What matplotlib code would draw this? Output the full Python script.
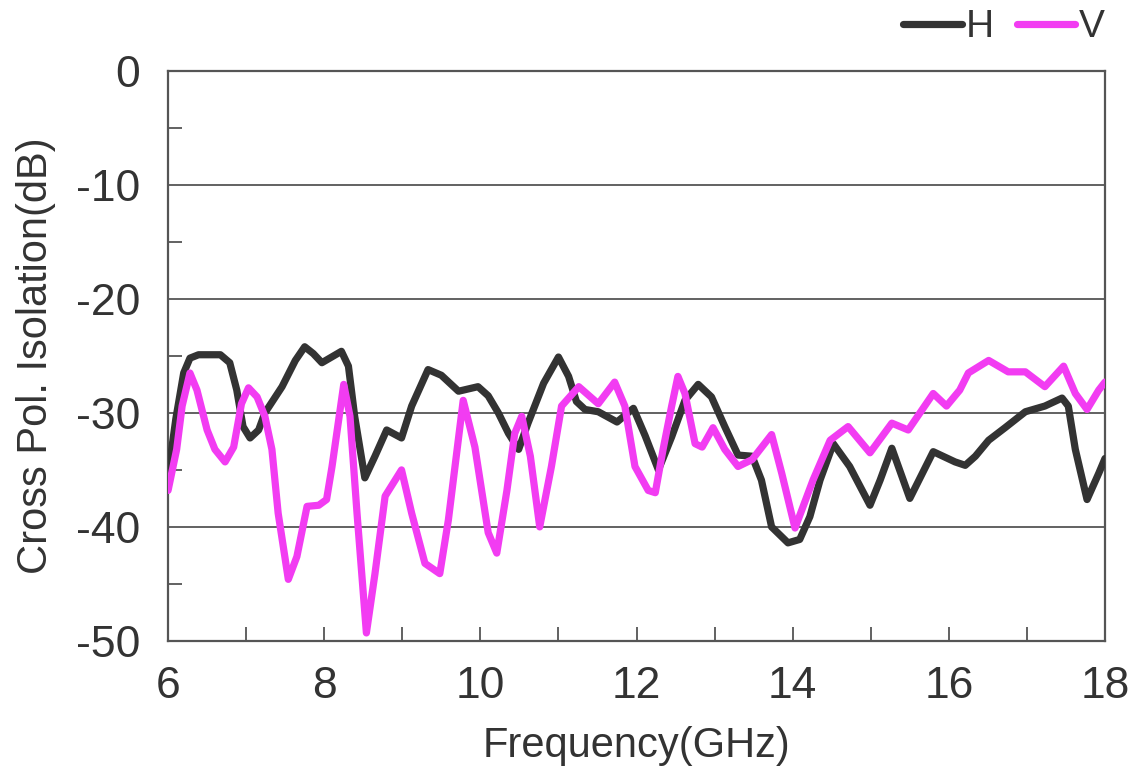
import numpy as np
import matplotlib.pyplot as plt
from matplotlib.ticker import MultipleLocator

plt.rcParams['font.family'] = ['Liberation Sans', 'DejaVu Sans']
plt.rcParams['axes.unicode_minus'] = False

# H polarisation
h_freq = [6.0, 6.1, 6.20, 6.28, 6.39, 6.67, 6.79, 6.88, 6.96, 7.05, 7.16, 7.24, 7.46, 7.63,
          7.75, 7.86, 7.97, 8.22, 8.31, 8.39, 8.52, 8.65, 8.80, 8.99, 9.12, 9.33,
          9.50, 9.72, 9.97, 10.10, 10.23, 10.36, 10.49, 10.61, 10.81, 11.0, 11.13,
          11.23, 11.34, 11.51, 11.75, 11.96, 12.11, 12.28, 12.45, 12.62, 12.79, 12.96,
          13.13, 13.30, 13.48, 13.60, 13.73, 13.94, 14.09, 14.22, 14.35, 14.52, 14.73,
          14.99, 15.12, 15.27, 15.50, 15.80, 16.08, 16.21, 16.34, 16.51, 16.72, 16.98,
          17.23, 17.45, 17.53, 17.62, 17.77, 17.92, 18.0]
h_db = [-35.5, -30.5, -26.5, -25.2, -24.9, -24.9, -25.6, -28.0, -31.2, -32.2, -31.5, -30.0, -27.7, -25.4,
        -24.2, -24.8, -25.6, -24.6, -25.9, -30.3, -35.7, -33.8, -31.5, -32.2, -29.4, -26.2,
        -26.7, -28.1, -27.7, -28.5, -30.0, -31.8, -33.2, -30.9, -27.4, -25.1, -26.8,
        -29.0, -29.7, -29.9, -30.8, -29.6, -32.0, -35.0, -32.1, -28.9, -27.5, -28.6,
        -31.2, -33.7, -33.8, -35.9, -40.0, -41.4, -41.1, -39.1, -35.9, -32.7, -34.7,
        -38.1, -35.9, -33.1, -37.5, -33.4, -34.3, -34.6, -33.8, -32.4, -31.3, -29.9,
        -29.4, -28.7, -29.4, -33.2, -37.6, -35.3, -34.0]

# V polarisation
v_freq = [6.0, 6.11, 6.18, 6.28, 6.37, 6.50, 6.60, 6.73, 6.84, 6.94, 7.03, 7.14, 7.24, 7.33,
          7.41, 7.54, 7.65, 7.78, 7.93, 8.03, 8.10, 8.25, 8.33, 8.42, 8.54, 8.65, 8.78,
          8.99, 9.12, 9.29, 9.48, 9.59, 9.78, 9.93, 10.10, 10.21, 10.34, 10.44, 10.53,
          10.64, 10.76, 10.91, 11.04, 11.26, 11.51, 11.72, 11.85, 11.98, 12.15, 12.24,
          12.34, 12.45, 12.53, 12.62, 12.75, 12.84, 12.98, 13.13, 13.30, 13.48, 13.73,
          13.86, 14.03, 14.26, 14.48, 14.71, 14.99, 15.27, 15.48, 15.80, 15.97, 16.14,
          16.25, 16.51, 16.76, 16.98, 17.23, 17.47, 17.62, 17.77, 17.92, 18.0]
v_db = [-36.8, -33.2, -29.4, -26.5, -28.0, -31.5, -33.2, -34.3, -33.0, -29.2, -27.8, -28.6, -30.3, -33.2,
        -38.8, -44.6, -42.6, -38.2, -38.1, -37.6, -34.7, -27.5, -30.3, -38.8, -49.3, -44.1, -37.3,
        -35.0, -38.8, -43.2, -44.1, -39.4, -28.9, -33.0, -40.5, -42.3, -36.8, -31.8, -30.3,
        -33.8, -40.0, -34.7, -29.4, -27.7, -29.2, -27.3, -29.4, -34.7, -36.8, -37.0,
        -33.2, -29.4, -26.8, -28.3, -32.7, -33.0, -31.3, -33.2, -34.7, -34.1, -31.9,
        -35.3, -40.1, -35.9, -32.4, -31.2, -33.5, -30.9, -31.5, -28.3, -29.4, -28.0,
        -26.5, -25.4, -26.4, -26.4, -27.7, -25.9, -28.3, -29.7, -28.0, -27.3]

fig = plt.figure(figsize=(11.28, 7.75), dpi=100)
ax = fig.add_axes([0.149, 0.173, 0.8306, 0.7356])

ax.plot(h_freq, h_db, color='#333333', lw=5.2, solid_joinstyle='round',
        solid_capstyle='round', label='H', zorder=3)
ax.plot(v_freq, v_db, color='#f23cf2', lw=5.2, solid_joinstyle='round',
        solid_capstyle='round', label='V', zorder=4)

ax.set_xlim(6, 18)
ax.set_ylim(-50, 0)
ax.xaxis.set_major_locator(MultipleLocator(2))
ax.xaxis.set_minor_locator(MultipleLocator(1))
ax.yaxis.set_major_locator(MultipleLocator(10))
ax.yaxis.set_minor_locator(MultipleLocator(5))
ax.grid(axis='y', which='major', color='#555555', lw=1.3)
ax.set_axisbelow(True)

ax.tick_params(which='both', direction='in', labelsize=32, colors='#555555',
               labelcolor='#333333', width=1.3)
ax.tick_params(axis='y', which='major', length=0, pad=20)
ax.tick_params(axis='x', which='major', length=10, pad=18)
ax.tick_params(which='minor', length=10)
for s in ax.spines.values():
    s.set_color('#555555')
    s.set_linewidth(1.6)

ax.set_xlabel('Frequency(GHz)', fontsize=30, color='#333333', labelpad=14)
ax.set_ylabel('Cross Pol. Isolation(dB)', fontsize=30, color='#333333', labelpad=14)

ax.legend(loc='lower right', bbox_to_anchor=(1.0, 1.045), ncol=2, frameon=False,
          fontsize=28, handlelength=1.5, handletextpad=0.1, columnspacing=0.6,
          borderaxespad=0.0, borderpad=0.0, labelcolor='#333333')

fig.savefig('out.png', dpi=100)
